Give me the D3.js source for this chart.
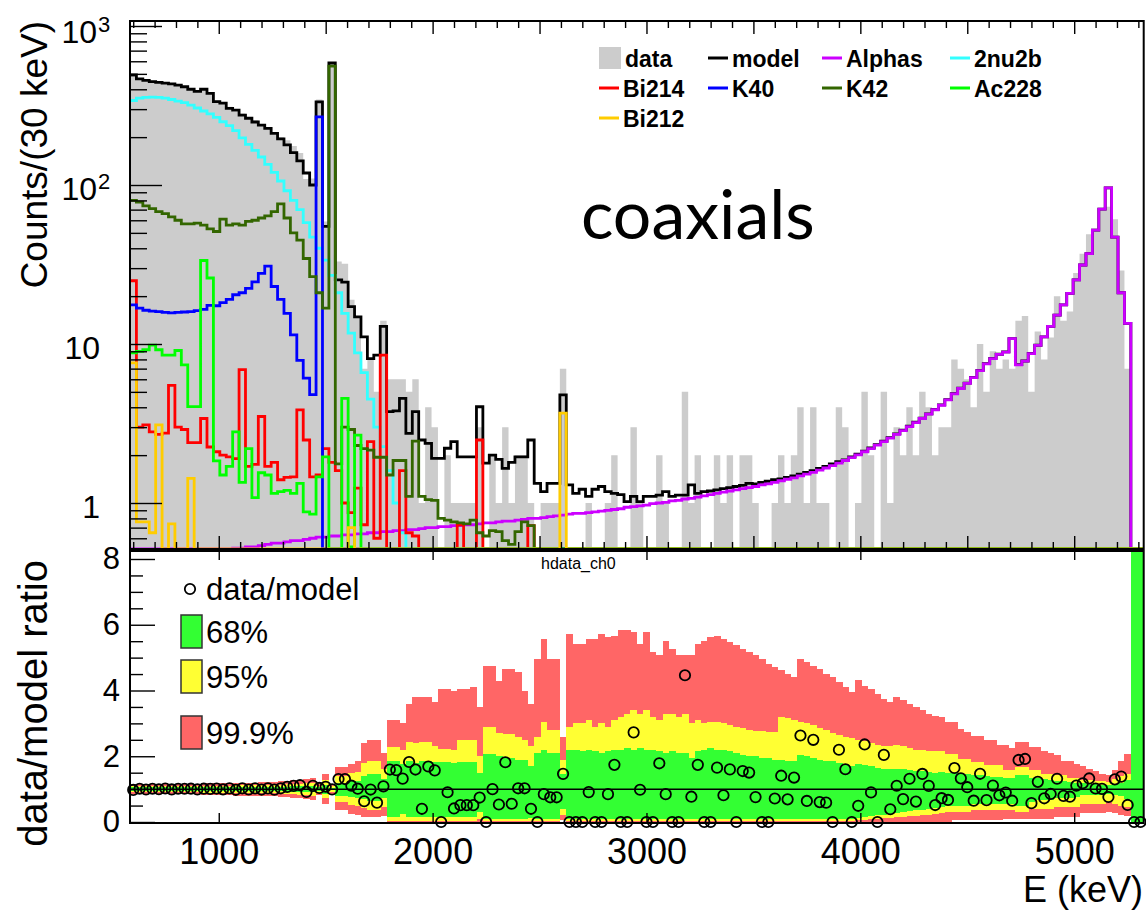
<!DOCTYPE html>
<html><head><meta charset="utf-8">
<script src="https://cdn.jsdelivr.net/npm/d3@7"></script>
<style>
html,body{margin:0;padding:0;background:#fff;}
svg{display:block;font-family:"Liberation Sans",Arial,Helvetica,sans-serif;}
</style></head><body>
<svg id="chart" width="1146" height="915"></svg>
<script>
// ---- binning: 30 keV bins starting at 585 keV ----
const binStart = 585;
const binWidth = 30;

// ---- measured spectrum (counts per 30 keV) ----
const dataCounts = [
 480,470,450,452,440,445,428,430,420,405,
 385,405,380,340,325,310,290,282,260,255,
 235,232,208,200,191,176,159,109,110,345,
 59,580,33,32,19,15,7,8,5,14,
 6,6,6,5,6,1,4,3,0,2,
 1,1,1,1,3,0,2,1,3,1,
 2,2,1,0,1,1,1,7,0,0,
 0,1,0,0,1,2,0,0,3,1,
 0,0,2,1,0,0,5,1,2,0,
 0,2,1,2,0,2,2,1,0,0,
 1,2,1,2,4,1,4,1,1,0,
 4,3,0,1,5,2,0,5,1,3,
 2,4,2,5,4,2,3,3,8,7,
 6,4,10,5,9,7,8,7,14,15,
 5,12,8,11,20,14,16,28,37,49,
 53,71,73,61,29,7,0,0];

// ---- total background model ----
const modelCounts = [
 492,465,455,447,442,437,432,425,415,400,
 388,400,377,334,327,303,296,275,263,249,
 238,227,211,195,179,160,142,119,100,333,
 55,585,25.3,24.5,17.2,14.8,11.1,8.1,8.5,12.9,
 3.76,3.8,4.55,2.74,3.76,2.49,2.37,1.91,1.91,2.21,
 2.43,1.95,1.95,1.95,4.03,1.78,2.0,1.88,1.65,1.8,
 1.95,1.95,2.49,1.33,1.18,1.33,1.33,4.78,1.30,1.15,
 1.22,1.10,1.22,1.27,1.18,1.15,1.13,1.02,1.10,1.02,
 1.10,1.10,1.12,1.18,1.10,1.12,1.12,1.30,1.15,1.18,
 1.19,1.21,1.23,1.25,1.27,1.29,1.33,1.32,1.35,1.37,
 1.40,1.42,1.45,1.48,1.52,1.56,1.60,1.65,1.70,1.76,
 1.82,1.87,1.95,2.03,2.12,2.22,2.33,2.45,2.58,2.72,
 2.87,3.04,3.22,3.42,3.64,3.88,4.14,4.47,4.87,5.27,
 5.67,6.17,6.82,7.52,8.12,8.62,8.92,10.8,7.42,7.82,
 8.72,9.82,11.1,12.9,15.2,17.6,20.8,25.3,31.4,37.0,
 52.0,70.5,96.0,47.0,21.0,13.5,0.001,0.001];

// ---- model components ----
const alphas = [
 0.40,0.41,0.42,0.42,0.43,0.44,0.44,0.45,0.46,0.46,
 0.47,0.48,0.48,0.49,0.50,0.51,0.52,0.52,0.53,0.53,
 0.54,0.55,0.56,0.56,0.57,0.58,0.58,0.59,0.60,0.61,
 0.61,0.62,0.62,0.63,0.63,0.64,0.64,0.65,0.65,0.66,
 0.66,0.67,0.67,0.68,0.68,0.69,0.70,0.70,0.71,0.71,
 0.72,0.72,0.73,0.73,0.74,0.75,0.75,0.76,0.77,0.77,
 0.78,0.79,0.80,0.80,0.81,0.82,0.83,0.84,0.85,0.86,
 0.86,0.87,0.88,0.89,0.90,0.91,0.92,0.94,0.95,0.96,
 0.97,0.99,1.00,1.01,1.03,1.04,1.06,1.07,1.09,1.11,
 1.13,1.15,1.17,1.19,1.21,1.23,1.25,1.27,1.30,1.32,
 1.35,1.38,1.41,1.44,1.48,1.52,1.56,1.61,1.66,1.72,
 1.78,1.85,1.93,2.01,2.10,2.20,2.31,2.43,2.56,2.70,
 2.85,3.02,3.20,3.40,3.62,3.86,4.12,4.45,4.85,5.25,
 5.65,6.15,6.80,7.50,8.10,8.60,8.90,10.8,7.40,7.80,
 8.70,9.80,11.1,12.9,15.2,17.6,20.8,25.3,31.4,37.0,
 52.0,70.5,96.0,47.0,21.0,13.5,0.001,0.001];

const twoNu2b = [
 340,352,356,357,356,352,345,337,330,318,
 305,292,280,266,250,236,220,198,180,165,
 150,135,120,106,92,80,70,58,47,40,
 33.7,27,21,15.6,11.7,8.8,6.6,4.5,3.0,2.26,
 1.6,1.0,0.65,0.45,0.3,0.2,0.15,0.1,0,0,
 0,0,0,0,0,0,0,0,0,0, 0,0,0,0,0,0,0,0,0,0,
 0,0,0,0,0,0,0,0,0,0, 0,0,0,0,0,0,0,0,0,0,
 0,0,0,0,0,0,0,0,0,0, 0,0,0,0,0,0,0,0,0,0,
 0,0,0,0,0,0,0,0,0,0, 0,0,0,0,0,0,0,0,0,0,
 0,0,0,0,0,0,0,0,0,0, 0,0,0,0,0,0,0,0,0,0,
 0,0,0,0,0,0,0,0];

const bi214 = [
 25,3.0,3.1,2.8,2.7,2.75,5.5,3.0,2.9,2.4,
 2.4,3.4,2.25,2.1,2.0,1.95,1.9,6.9,1.7,1.75,
 3.5,1.7,1.8,1.4,1.45,1.46,3.85,2.49,1.46,1.5,
 2.2,1.8,1.6,1.0,0.87,1.24,0.73,2.43,0.6,8.5,
 0.45,0.5,1.6,0.65,0.62,0.5,0.45,0.4,0.45,0.4,
 0.45,0.73,0.4,0.4,2.49,0.35,0.35,0.3,0.3,0.3,
 0.3,0.3,0.72,0.2,0.2,0.2,0.2,0.2,0.2,0.2,
 0,0,0,0,0,0,0,0,0,0, 0,0,0,0,0,0,0,0,0,0,
 0,0,0,0,0,0,0,0,0,0, 0,0,0,0,0,0,0,0,0,0,
 0,0,0,0,0,0,0,0,0,0, 0,0,0,0,0,0,0,0,0,0,
 0,0,0,0,0,0,0,0,0,0, 0,0,0,0,0,0,0,0,0,0,
 0,0,0,0,0,0,0,0];

const k40 = [
 17.6,16.8,16.3,16.1,16.0,15.8,15.7,15.8,15.9,16.0,
 16.2,16.5,17.5,17.4,18.2,19.1,20.4,21.0,22.4,24.6,
 27.8,30.9,23.0,19.1,15.6,11.4,7.9,6.1,4.8,268,
 0,0,0,0,0,0,0,0,0,0, 0,0,0,0,0,0,0,0,0,0,
 0,0,0,0,0,0,0,0,0,0, 0,0,0,0,0,0,0,0,0,0,
 0,0,0,0,0,0,0,0,0,0, 0,0,0,0,0,0,0,0,0,0,
 0,0,0,0,0,0,0,0,0,0, 0,0,0,0,0,0,0,0,0,0,
 0,0,0,0,0,0,0,0,0,0, 0,0,0,0,0,0,0,0,0,0,
 0,0,0,0,0,0,0,0,0,0, 0,0,0,0,0,0,0,0,0,0,
 0,0,0,0,0,0,0,0];

const k42 = [
 80,78,74,71,68,66,63,60,57,57,
 57.5,56,53,51,61,56,57,56,59,60,
 62,64,68,76,62,50,45,34.5,26.5,21,
 16.8,560,1.76,3.0,2.9,2.3,2.2,2.15,1.94,1.94,
 1.5,1.85,1.85,1.1,2.45,1.1,1.05,1.04,0.8,0.78,
 0.76,0.75,0.74,0.78,0.65,0.62,0.67,0.66,0.58,0.55,
 0.66,0.76,0.72,0.4,0.3,0.3,0,0,0,0,
 0,0,0,0,0,0,0,0,0,0, 0,0,0,0,0,0,0,0,0,0,
 0,0,0,0,0,0,0,0,0,0, 0,0,0,0,0,0,0,0,0,0,
 0,0,0,0,0,0,0,0,0,0, 0,0,0,0,0,0,0,0,0,0,
 0,0,0,0,0,0,0,0,0,0, 0,0,0,0,0,0,0,0,0,0,
 0,0,0,0,0,0,0,0];

const ac228 = [
 8.8,9.0,9.2,9.85,9.2,8.5,8.5,9.1,7.4,4.04,
 4.04,33.5,26,1.84,1.5,1.7,2.8,1.35,2.2,1.08,
 1.55,1.5,1.15,1.18,1.2,1.15,1.33,0.88,0.85,1.46,
 1.95,0,0,4.55,0.53,2.67,0,0,0,0,
 0,0,0,0,0,0,0,0,0,0, 0,0,0,0,0,0,0,0,0,0,
 0,0,0,0,0,0,0,0,0,0, 0,0,0,0,0,0,0,0,0,0,
 0,0,0,0,0,0,0,0,0,0, 0,0,0,0,0,0,0,0,0,0,
 0,0,0,0,0,0,0,0,0,0, 0,0,0,0,0,0,0,0,0,0,
 0,0,0,0,0,0,0,0,0,0, 0,0,0,0,0,0,0,0,0,0,
 0,0,0,0,0,0,0,0,0,0, 0,0,0,0,0,0,0,0];

const bi212 = [
 7.6,0.76,0.76,0.65,3.1,0,0.74,0,0,1.43,
 0,0,0,0,0,0,0,0,0,0, 0,0,0,0,0,0,0,0,0,0,
 0,0,0,0,0.7,0,0,0,0,0,
 0,0,0,0,0,0,0,0,0,0, 0,0,0,0,0,0,0,0,0,0,
 0,0,0,0,0,0,0,3.68,0,0,
 0,0,0,0,0,0,0,0,0,0, 0,0,0,0,0,0,0,0,0,0,
 0,0,0,0,0,0,0,0,0,0, 0,0,0,0,0,0,0,0,0,0,
 0,0,0,0,0,0,0,0,0,0, 0,0,0,0,0,0,0,0,0,0,
 0,0,0,0,0,0,0,0,0,0, 0,0,0,0,0,0,0,0,0,0,
 0,0,0,0,0,0,0,0];

// ---- ratio panel: data/model fluctuation intervals per bin ----
const band999Hi = [
 1.15,1.15,1.15,1.15,1.15,1.15,1.16,1.16,1.16,1.16,
 1.16,1.18,1.18,1.18,1.18,1.18,1.20,1.20,1.20,1.20,
 1.22,1.22,1.22,1.24,1.25,1.27,1.28,1.30,1.33,1.18,
 1.47,1.14,1.68,1.68,1.75,1.85,2.40,2.50,2.50,2.10,
 3.10,3.10,3.00,3.60,3.80,3.80,3.80,3.65,4.05,4.05,
 4.00,4.05,4.05,4.10,3.50,4.76,4.76,4.30,4.66,4.66,
 4.55,4.00,3.60,4.97,5.57,4.97,4.97,2.60,5.72,5.42,
 5.42,5.57,5.57,5.72,5.62,5.67,5.83,5.83,5.78,5.42,
 5.78,5.17,5.07,5.52,5.27,5.07,5.07,5.07,5.42,5.52,
 5.62,5.67,5.57,5.47,5.37,5.27,5.17,5.07,4.97,4.81,
 4.71,4.61,4.51,4.41,4.97,4.86,4.76,4.66,4.51,4.41,
 4.26,4.10,3.95,4.31,4.15,4.05,3.90,3.75,3.65,3.80,
 3.70,3.60,3.50,3.40,3.30,3.22,3.19,3.04,3.04,2.84,
 2.75,2.63,2.63,2.48,2.48,2.33,2.33,2.25,2.43,2.43,
 2.28,2.28,2.17,2.10,2.03,1.87,1.87,1.75,1.70,1.62,
 1.55,1.47,1.42,1.57,1.87,2.08,9,9];
const band95Hi = [
 1.09,1.09,1.09,1.09,1.09,1.09,1.10,1.10,1.10,1.10,
 1.10,1.11,1.11,1.11,1.11,1.11,1.12,1.12,1.12,1.12,
 1.13,1.13,1.13,1.14,1.15,1.16,1.17,1.18,1.20,1.11,
 1.27,1.08,1.40,1.40,1.48,1.52,1.80,1.87,1.87,1.60,
 2.28,2.28,2.20,2.43,2.40,2.43,2.43,2.30,2.23,2.23,
 2.20,2.48,2.48,2.48,2.00,2.89,2.89,2.70,2.69,2.69,
 2.60,2.50,2.30,2.60,3.04,2.80,2.80,1.90,2.90,3.00,
 3.00,3.10,2.90,3.00,2.90,3.10,3.20,3.30,3.40,3.30,
 3.40,3.20,3.10,3.30,3.30,3.20,3.30,3.00,3.10,3.00,
 3.05,3.05,3.00,2.95,2.90,2.85,2.80,2.78,2.78,2.75,
 2.75,3.20,3.15,3.10,3.05,3.00,2.95,2.85,2.80,2.70,
 2.65,2.60,2.55,2.50,2.45,2.40,2.35,2.30,2.30,2.35,
 2.30,2.25,2.20,2.20,2.15,2.15,2.17,2.08,2.08,1.93,
 1.93,1.82,1.82,1.72,1.72,1.72,1.57,1.57,1.67,1.67,
 1.57,1.57,1.47,1.47,1.42,1.42,1.35,1.35,1.29,1.29,
 1.25,1.25,1.22,1.32,1.40,1.47,9,9];
const band68Hi = [
 1.05,1.05,1.05,1.05,1.05,1.05,1.05,1.05,1.05,1.05,
 1.05,1.055,1.055,1.055,1.055,1.055,1.06,1.06,1.06,1.06,
 1.065,1.065,1.065,1.07,1.075,1.08,1.085,1.09,1.10,1.055,
 1.14,1.04,1.20,1.20,1.24,1.26,1.40,1.45,1.45,1.30,
 1.87,1.87,1.75,1.87,1.80,1.87,1.87,1.82,1.82,1.82,
 1.78,1.82,1.82,1.82,1.50,2.08,2.08,2.00,1.95,1.95,
 1.90,1.90,1.70,2.10,2.20,2.10,2.10,1.45,2.20,2.20,
 2.15,2.20,2.15,2.10,2.15,2.20,2.20,2.25,2.20,2.25,
 2.20,2.20,2.15,2.10,2.15,2.10,2.10,1.95,2.15,2.20,
 2.25,2.20,2.20,2.15,2.10,2.05,2.00,2.00,1.95,1.95,
 1.90,1.90,1.85,1.85,2.05,2.00,1.95,1.90,1.85,1.85,
 1.80,1.75,1.70,1.75,1.72,1.70,1.65,1.62,1.60,1.62,
 1.60,1.58,1.55,1.55,1.52,1.50,1.52,1.50,1.48,1.45,
 1.45,1.42,1.42,1.40,1.38,1.38,1.35,1.35,1.42,1.42,
 1.33,1.33,1.30,1.28,1.25,1.25,1.22,1.20,1.18,1.17,
 1.15,1.14,1.12,1.15,1.20,1.28,9,9];
const band68Lo = [
 0.95,0.95,0.95,0.95,0.95,0.95,0.95,0.95,0.95,0.95,
 0.95,0.945,0.945,0.945,0.945,0.945,0.94,0.94,0.94,0.94,
 0.935,0.935,0.935,0.93,0.925,0.92,0.915,0.91,0.90,0.945,
 0.86,0.96,0.80,0.80,0.76,0.74,0.70,0.65,0.65,0.72,
 0.15,0.15,0.25,0.15,0.15,0.15,0.15,0.15,0.15,0.15,
 0.15,0.15,0.15,0.15,0.30,0.10,0.10,0.10,0.10,0.10,
 0.10,0.10,0.12,0.10,0.10,0.10,0.10,0.40,0.08,0.08,
 0.08,0.08,0.08,0.08,0.08,0.08,0.08,0.08,0.08,0.08,
 0.08,0.08,0.08,0.08,0.08,0.08,0.08,0.08,0.08,0.08,
 0.08,0.08,0.08,0.08,0.08,0.08,0.08,0.08,0.08,0.08,
 0.08,0.08,0.08,0.08,0.08,0.08,0.08,0.08,0.08,0.08,
 0.08,0.08,0.10,0.12,0.15,0.17,0.20,0.22,0.25,0.27,
 0.30,0.32,0.35,0.38,0.40,0.43,0.46,0.50,0.50,0.50,
 0.50,0.56,0.56,0.56,0.56,0.56,0.56,0.56,0.50,0.50,
 0.62,0.66,0.66,0.66,0.73,0.73,0.73,0.76,0.81,0.81,
 0.81,0.83,0.85,0.83,0.78,0.70,0,0];
const band95Lo = [
 0.91,0.91,0.91,0.91,0.91,0.91,0.90,0.90,0.90,0.90,
 0.90,0.89,0.89,0.89,0.89,0.89,0.88,0.88,0.88,0.88,
 0.87,0.87,0.87,0.86,0.85,0.84,0.83,0.82,0.80,0.89,
 0.73,0.92,0.60,0.60,0.52,0.48,0.42,0.38,0.38,0.45,
 0.04,0.04,0.04,0.04,0.04,0.04,0.04,0.04,0.04,0.04,
 0.04,0.04,0.04,0.04,0.10,0.04,0.04,0.04,0.04,0.04,
 0.04,0.04,0.04,0.04,0.04,0.04,0.04,0.20,0.03,0.03,
 0.03,0.03,0.03,0.03,0.03,0.03,0.03,0.03,0.03,0.03,
 0.03,0.03,0.03,0.03,0.03,0.03,0.03,0.03,0.03,0.03,
 0.03,0.03,0.03,0.03,0.03,0.03,0.03,0.03,0.03,0.03,
 0.03,0.03,0.03,0.03,0.03,0.03,0.03,0.03,0.03,0.03,
 0.03,0.03,0.04,0.05,0.07,0.08,0.10,0.11,0.12,0.14,
 0.15,0.17,0.19,0.20,0.22,0.24,0.26,0.31,0.31,0.31,
 0.31,0.36,0.36,0.36,0.36,0.36,0.36,0.36,0.31,0.31,
 0.41,0.41,0.41,0.41,0.46,0.46,0.46,0.46,0.56,0.56,
 0.56,0.56,0.60,0.56,0.50,0.45,0,0];
const band999Lo = [
 0.85,0.85,0.85,0.85,0.85,0.85,0.84,0.84,0.84,0.84,
 0.84,0.82,0.82,0.82,0.82,0.82,0.80,0.80,0.80,0.80,
 0.78,0.78,0.78,0.76,0.75,0.73,0.72,0.70,0.67,0.82,
 0.55,0.86,0.36,0.36,0.25,0.20,0.15,0.15,0.15,0.18,
 0,0,0,0,0,0,0,0,0,0,
 0,0,0,0,0,0,0,0,0,0,
 0,0,0,0,0,0,0,0.05,0,0,
 0,0,0,0,0,0,0,0,0,0,
 0,0,0,0,0,0,0,0,0,0,
 0,0,0,0,0,0,0,0,0,0,
 0,0,0,0,0,0,0,0,0,0,
 0,0,0,0,0,0,0,0,0,0,
 0,0,0,0,0,0,0,0,0.05,0.05,
 0.05,0.05,0.05,0.05,0.05,0.05,0.10,0.10,0.10,0.10,
 0.10,0.10,0.10,0.10,0.15,0.15,0.15,0.15,0.26,0.26,
 0.26,0.26,0.31,0.28,0.22,0.18,0,0];

// ---- axis tick labels ----
const xTickLabels = [1000, 2000, 3000, 4000, 5000];
const topYLabels = [
  {v: 1000, base: '10', sup: '3'},
  {v: 100,  base: '10', sup: '2'},
  {v: 10,   base: '10', sup: ''},
  {v: 1,    base: '1',  sup: ''}];
const ratioYLabels = [0, 2, 4, 6, 8];

// ---- legend entries ----
const components = [
  {name: 'Alphas', values: alphas,  color: '#cc00ff'},
  {name: '2nu2b',  values: twoNu2b, color: '#33ffff'},
  {name: 'Bi214',  values: bi214,   color: '#ff0000'},
  {name: 'K40',    values: k40,     color: '#0000ff'},
  {name: 'K42',    values: k42,     color: '#336600'},
  {name: 'Ac228',  values: ac228,   color: '#00ff00'},
  {name: 'Bi212',  values: bi212,   color: '#ffcc00'}];
const legendTop = [
  {name: 'data',   kind: 'fill', color: '#cccccc'},
  {name: 'model',  kind: 'line', color: '#000000'},
  {name: 'Alphas', kind: 'line', color: '#cc00ff'},
  {name: '2nu2b',  kind: 'line', color: '#33ffff'},
  {name: 'Bi214',  kind: 'line', color: '#ff0000'},
  {name: 'K40',    kind: 'line', color: '#0000ff'},
  {name: 'K42',    kind: 'line', color: '#336600'},
  {name: 'Ac228',  kind: 'line', color: '#00ff00'},
  {name: 'Bi212',  kind: 'line', color: '#ffcc00'}];
const bandColors = {b999: '#ff6666', b95: '#ffff33', b68: '#33ff33'};
const legendBands = [
  {label: '68%',   color: '#33ff33'},
  {label: '95%',   color: '#ffff33'},
  {label: '99.9%', color: '#ff6666'}];

// sanity check on the per-bin series
const nBins = dataCounts.length;
[modelCounts, alphas, twoNu2b, bi214, k40, k42, ac228, bi212,
 band999Hi, band95Hi, band68Hi, band68Lo, band95Lo, band999Lo].forEach((a, i) => {
  if (a.length !== nBins) throw new Error('series ' + i + ' has ' + a.length + ' bins, expected ' + nBins);
});

// ---- layout ----
const xLo = binStart, xHi = binStart + nBins * binWidth;
const x = d3.scaleLinear().domain([xLo, xHi]).range([130, 1143.7]);
const topPad = {top: 21, bottom: 549};
const ratPad = {top: 551, bottom: 823};
const yTop = d3.scaleLog().domain([1, 1000]).range([503, 26]);
const yRat = d3.scaleLinear().domain([0, 8]).range([822, 559]);
const edges = d3.range(nBins + 1).map(i => binStart + i * binWidth);
const xL = x(xLo), xR = x(xHi);

const svg = d3.select('#chart');
const defs = svg.append('defs');
defs.append('clipPath').attr('id', 'clipTop').append('rect')
  .attr('x', xL).attr('y', topPad.top - 1).attr('width', xR - xL).attr('height', topPad.bottom - topPad.top + 3);
defs.append('clipPath').attr('id', 'clipRat').append('rect')
  .attr('x', xL).attr('y', ratPad.top).attr('width', xR - xL).attr('height', ratPad.bottom - ratPad.top);

function yClamp(v) {
  if (!(v > 0)) return topPad.bottom;
  return Math.max(topPad.top - 3, Math.min(topPad.bottom, yTop(v)));
}
function stepLine(vals) {
  return vals.map((v, i) => (i ? 'V' + yClamp(v) : 'M' + x(edges[0]) + ',' + yClamp(v)) + 'H' + x(edges[i + 1])).join('');
}
function stepFill(vals) {
  return 'M' + x(edges[0]) + ',' + topPad.bottom +
    vals.map((v, i) => 'V' + yClamp(v) + 'H' + x(edges[i + 1])).join('') + 'V' + topPad.bottom + 'Z';
}

// ================= upper panel: spectrum =================
const gTop = svg.append('g');
const plotTop = gTop.append('g').attr('clip-path', 'url(#clipTop)');
plotTop.append('path').attr('d', stepFill(dataCounts)).attr('fill', '#cccccc').attr('stroke', 'none');
plotTop.append('path').attr('d', stepLine(modelCounts)).attr('fill', 'none')
  .attr('stroke', '#000').attr('stroke-width', 2.8).attr('stroke-linejoin', 'miter');
components.forEach(c => {
  plotTop.append('path').attr('d', stepLine(c.values)).attr('fill', 'none')
    .attr('stroke', c.color).attr('stroke-width', 2.8).attr('stroke-linejoin', 'miter');
});

function styleTicks(g) {
  g.select('.domain').remove();
  g.selectAll('.tick line').attr('stroke', '#000').attr('stroke-width', 1.4);
  g.selectAll('.tick text').remove();
}
const xMinorTicks = d3.range(600, xHi, 100).filter(e => e % 500 !== 0);
const xMidTicks = d3.range(1000, xHi, 500);
[[xMinorTicks, 7], [xMidTicks, 13]].forEach(([vals, len]) => {
  gTop.append('g').attr('transform', `translate(0,${topPad.bottom})`)
    .call(d3.axisBottom(x).tickValues(vals).tickSize(-len)).call(styleTicks);
  gTop.append('g').attr('transform', `translate(0,${topPad.top})`)
    .call(d3.axisTop(x).tickValues(vals).tickSize(-len)).call(styleTicks);
});
const yMajor = [1, 10, 100, 1000];
const yMinor = [0.6, 0.7, 0.8, 0.9, 2, 3, 4, 5, 6, 7, 8, 9, 20, 30, 40, 50, 60, 70, 80, 90,
                200, 300, 400, 500, 600, 700, 800, 900];
gTop.append('g').attr('transform', `translate(${xL},0)`)
  .call(d3.axisLeft(yTop).tickValues(yMajor).tickSize(-32)).call(styleTicks);
gTop.append('g').attr('transform', `translate(${xL},0)`)
  .call(d3.axisLeft(yTop).tickValues(yMinor).tickSize(-17)).call(styleTicks);

gTop.append('rect').attr('x', xL).attr('y', topPad.top).attr('width', xR - xL)
  .attr('height', topPad.bottom - topPad.top).attr('fill', 'none').attr('stroke', '#000').attr('stroke-width', 2);

// y labels 10^n
topYLabels.forEach(d => {
  const yy = yTop(d.v) + (d.v === 1000 ? 17 : 15);
  const t = gTop.append('text').attr('y', yy).attr('font-size', 32).attr('fill', '#000');
  if (d.sup) {
    t.attr('x', 97).attr('text-anchor', 'end').text(d.base);
    gTop.append('text').attr('x', 98).attr('y', yy - 11).attr('font-size', 22).attr('fill', '#000').text(d.sup);
  } else {
    t.attr('x', 100).attr('text-anchor', 'end').text(d.base);
  }
});
gTop.append('text').attr('transform', `translate(47,${topPad.top}) rotate(-90)`)
  .attr('text-anchor', 'end').attr('font-size', 37).attr('fill', '#000').text('Counts/(30 keV)');

gTop.append('text').attr('x', 581).attr('y', 239)
  .attr('font-family', 'Lato, "Open Sans", sans-serif').attr('font-size', 68).attr('fill', '#000').text('coaxials');

// legend
const legCols = [599, 708, 822, 950];
const legRows = [58, 88, 118];
legendTop.forEach((d, i) => {
  const cx = legCols[i % 4], cy = legRows[Math.floor(i / 4)];
  if (d.kind === 'fill') {
    gTop.append('rect').attr('x', cx).attr('y', cy - 11).attr('width', 22).attr('height', 22).attr('fill', d.color);
  } else {
    gTop.append('line').attr('x1', cx).attr('x2', cx + 20).attr('y1', cy).attr('y2', cy)
      .attr('stroke', d.color).attr('stroke-width', 3);
  }
  gTop.append('text').attr('x', cx + (d.kind === 'fill' ? 26 : 24)).attr('y', cy + 8.5)
    .attr('font-size', 23).attr('font-weight', 'bold').attr('fill', '#000').text(d.name);
});

// ================= lower panel: data/model =================
const gRat = svg.append('g');
const plotRat = gRat.append('g').attr('clip-path', 'url(#clipRat)');
const bandSets = [
  {hi: band999Hi, lo: band999Lo, color: bandColors.b999},
  {hi: band95Hi,  lo: band95Lo,  color: bandColors.b95},
  {hi: band68Hi,  lo: band68Lo,  color: bandColors.b68}];
bandSets.forEach(b => {
  plotRat.append('g').selectAll('rect').data(d3.range(nBins)).join('rect')
    .attr('x', i => x(edges[i]))
    .attr('width', i => x(edges[i + 1]) - x(edges[i]) + 0.4)
    .attr('y', i => yRat(b.hi[i]))
    .attr('height', i => Math.max(0, yRat(b.lo[i]) - yRat(b.hi[i])))
    .attr('fill', b.color).attr('shape-rendering', 'crispEdges');
});
plotRat.append('line').attr('x1', xL).attr('x2', xR).attr('y1', yRat(1)).attr('y2', yRat(1))
  .attr('stroke', '#000').attr('stroke-width', 1.5);

const ratioPts = d3.range(nBins).filter(i => modelCounts[i] > 0)
  .map(i => ({e: (edges[i] + edges[i + 1]) / 2, r: dataCounts[i] / modelCounts[i]}));
gRat.append('g').selectAll('circle').data(ratioPts).join('circle')
  .attr('cx', d => x(d.e)).attr('cy', d => yRat(Math.min(d.r, 8.3)))
  .attr('r', 5.2).attr('fill', 'none').attr('stroke', '#000').attr('stroke-width', 1.8);

// ticks
gRat.append('g').attr('transform', `translate(0,${ratPad.bottom})`)
  .call(d3.axisBottom(x).tickValues(xTickLabels).tickSize(-10).tickPadding(15).tickFormat(d3.format('d')))
  .call(g => {
    g.select('.domain').remove();
    g.selectAll('.tick line').attr('stroke', '#000').attr('stroke-width', 1.4);
    g.selectAll('.tick text').attr('font-size', 36).attr('font-family', '"Liberation Sans", Arial, sans-serif').attr('fill', '#000');
  });
gRat.append('g').attr('transform', `translate(0,${ratPad.top})`)
  .call(d3.axisTop(x).tickValues(xTickLabels).tickSize(-9)).call(styleTicks);
gRat.append('g').attr('transform', `translate(${xL},0)`)
  .call(d3.axisLeft(yRat).tickValues(ratioYLabels).tickSize(-25).tickPadding(10).tickFormat(d3.format('d')))
  .call(g => {
    g.select('.domain').remove();
    g.selectAll('.tick line').attr('stroke', '#000').attr('stroke-width', 1.4);
    g.selectAll('.tick text').attr('font-size', 31).attr('font-family', '"Liberation Sans", Arial, sans-serif').attr('fill', '#000');
  });
const ratMinor = d3.range(0.5, 8, 0.5).filter(v => v % 2 !== 0);
gRat.append('g').attr('transform', `translate(${xL},0)`)
  .call(d3.axisLeft(yRat).tickValues(ratMinor).tickSize(-13)).call(styleTicks);

gRat.append('rect').attr('x', xL).attr('y', ratPad.top).attr('width', xR - xL)
  .attr('height', ratPad.bottom - ratPad.top).attr('fill', 'none').attr('stroke', '#000').attr('stroke-width', 2);

gRat.append('text').attr('transform', `translate(47,560) rotate(-90)`)
  .attr('text-anchor', 'end').attr('font-size', 40).attr('fill', '#000').text('data/model ratio');
gRat.append('text').attr('x', 1143).attr('y', 902).attr('text-anchor', 'end')
  .attr('font-size', 36).attr('fill', '#000').text('E (keV)');
gRat.append('text').attr('x', 541).attr('y', 569).attr('font-size', 16).attr('fill', '#000').text('hdata_ch0');

// ratio legend
gRat.append('circle').attr('cx', 190).attr('cy', 589).attr('r', 5.2)
  .attr('fill', 'none').attr('stroke', '#000').attr('stroke-width', 1.8);
gRat.append('text').attr('x', 206).attr('y', 600).attr('font-size', 31).attr('fill', '#000').text('data/model');
const legBandY = [615, 660, 716];
legendBands.forEach((d, i) => {
  gRat.append('rect').attr('x', 181).attr('y', legBandY[i]).attr('width', 21).attr('height', 33)
    .attr('fill', d.color).attr('stroke', '#333').attr('stroke-width', 1.5);
  gRat.append('text').attr('x', 206).attr('y', legBandY[i] + 28).attr('font-size', 31).attr('fill', '#000').text(d.label);
});
</script>
</body></html>
